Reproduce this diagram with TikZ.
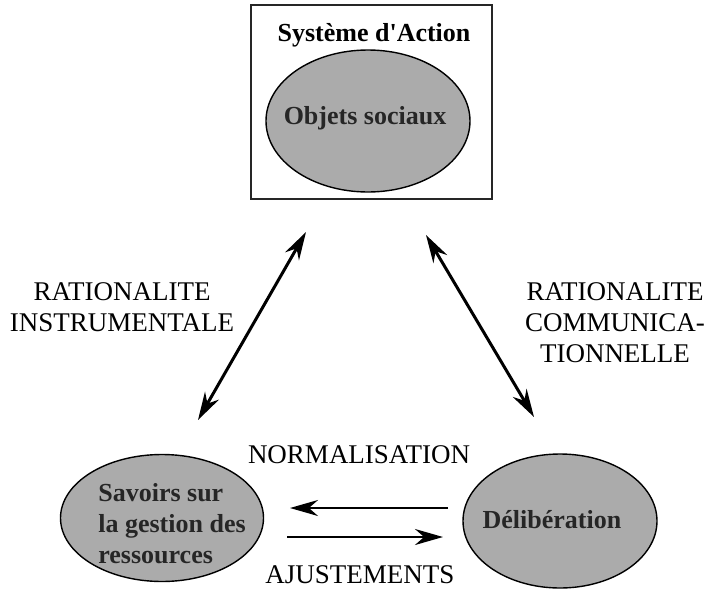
\documentclass[tikz,border=0pt]{standalone}
\usepackage{fontspec}
\setmainfont{Liberation Serif}
\usepackage{tikz}
\usetikzlibrary{arrows.meta}
\usetikzlibrary{shapes,shapes.geometric}
\tikzset{>={Stealth[length=28pt,width=16pt]}}
\tikzset{
  bulle/.style={ellipse, draw=black, line width=1.4pt, fill=black!33, inner sep=0pt},
  bulletexte/.style={font=\fontsize{26}{31}\selectfont\bfseries, text=black!85, inner sep=0pt},
  etiquette/.style={font=\fontsize{27}{31}\selectfont, align=center, inner sep=0pt},
  fleche/.style={<->, line width=3pt},
  flechehoriz/.style={->, line width=2.4pt}
}

\begin{document}
\begin{tikzpicture}[x=1pt, y=-1pt]
        \useasboundingbox (0,0) rectangle (710,592);
        % Systeme d'action
        \draw [line width=1.8pt, black!85] (251,5) rectangle (492,199);
        \node[font=\fontsize{26}{31}\selectfont\bfseries, inner sep=0pt] (titre) at (374,35) {Système d\textquotesingle Action};
        \node[bulle, minimum width=204pt, minimum height=142pt] (objets) at (368,121) {};
        \node[bulletexte] (objetstxt) at (365,118) {Objets sociaux};

        % Ellipses du bas
        \node[bulle, minimum width=203pt, minimum height=127pt] (savoirs) at (162,518) {};
        \node[bulletexte, align=left] (savoirstxt) at (172,524) {Savoirs sur\\la gestion des\\ressources};
        \node[bulle, minimum width=194pt, minimum height=134pt] (delib) at (560,521) {};
        \node[bulletexte] (delibtxt) at (552,520) {Délibération};

        % Rationalites
        \coordinate (instrbas) at (198,420);
        \coordinate (instrhaut) at (306,232);
        \coordinate (commhaut) at (426,235);
        \coordinate (commbas) at (534,417);
        \draw [fleche] (instrbas) -- (instrhaut);
        \draw [fleche] (commhaut) -- (commbas);
        \node[etiquette] (instr) at (122,307) {RATIONALITE\\INSTRUMENTALE};
        \node[etiquette] (comm) at (615,323) {RATIONALITE\\COMMUNICA-\\TIONNELLE};

        % Normalisation / ajustements
        \coordinate (normdeb) at (448,508);
        \coordinate (normfin) at (290,508);
        \coordinate (ajustdeb) at (287,537);
        \coordinate (ajustfin) at (443,537);
        \draw [flechehoriz] (normdeb) -- (normfin);
        \draw [flechehoriz] (ajustdeb) -- (ajustfin);
        \node[etiquette] (norm) at (359,455) {NORMALISATION};
        \node[etiquette] (ajust) at (360,575) {AJUSTEMENTS};
      \end{tikzpicture}
\end{document}
